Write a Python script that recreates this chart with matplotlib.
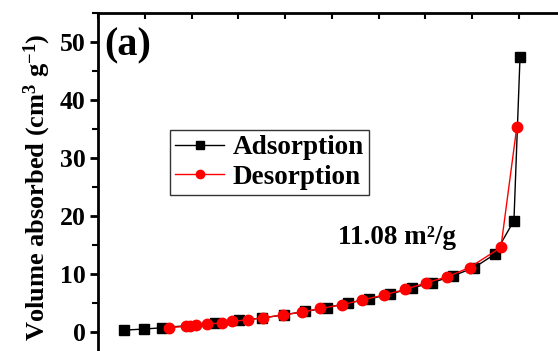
import matplotlib.pyplot as plt
from matplotlib.ticker import MultipleLocator

plt.rcParams['font.family'] = ['Liberation Serif', 'DejaVu Serif']
plt.rcParams['font.weight'] = 'bold'
plt.rcParams['mathtext.fontset'] = 'custom'
plt.rcParams['mathtext.rm'] = 'Liberation Serif:bold'
plt.rcParams['mathtext.it'] = 'Liberation Serif:bold'
plt.rcParams['mathtext.bf'] = 'Liberation Serif:bold'

# N2 isotherm, relative pressure P/P0 vs volume adsorbed
ads_p = [0.056, 0.098, 0.136, 0.250, 0.302, 0.351, 0.398, 0.443, 0.489, 0.535,
         0.580, 0.625, 0.671, 0.714, 0.760, 0.805, 0.849, 0.890, 0.903]
ads_v = [0.29, 0.47, 0.69, 1.47, 1.99, 2.37, 2.94, 3.51, 4.15, 4.97,
         5.66, 6.51, 7.55, 8.46, 9.67, 11.1, 13.4, 19.2, 47.4]

des_p = [0.152, 0.187, 0.197, 0.210, 0.232, 0.264, 0.286, 0.321, 0.353, 0.395,
         0.436, 0.475, 0.521, 0.565, 0.611, 0.657, 0.702, 0.747, 0.795, 0.862, 0.896]
des_v = [0.73, 0.92, 0.98, 1.12, 1.30, 1.55, 1.81, 2.07, 2.42, 2.90,
         3.40, 4.02, 4.66, 5.49, 6.34, 7.31, 8.46, 9.50, 11.1, 14.56, 35.3]

fig = plt.figure(figsize=(5.58, 3.51), dpi=100)
# axes run past the right and bottom edges of the figure
ax = fig.add_axes([0.1762, -0.0277, 0.8369, 0.9897])

ax.plot(ads_p, ads_v, color='black', lw=1, marker='s', ms=6.5,
        label='Adsorption', zorder=2)
ax.plot(des_p, des_v, color='red', lw=1, marker='o', ms=7.5,
        label='Desorption', zorder=3)

ax.set_xlim(0, 1.0)
ax.set_ylim(-5, 55)

ax.yaxis.set_major_locator(MultipleLocator(10))
ax.yaxis.set_minor_locator(MultipleLocator(5))
ax.xaxis.set_major_locator(MultipleLocator(0.1))

for s in ax.spines.values():
    s.set_linewidth(2)

ax.tick_params(axis='y', which='major', direction='out', length=6, width=2,
               labelsize=18.5, pad=3)
ax.tick_params(axis='y', which='minor', direction='out', length=4, width=1.5)
ax.tick_params(axis='x', which='both', top=True, bottom=False, direction='in',
               length=4, width=1.5, labelbottom=False)

ax.set_ylabel(r'Volume absorbed (cm$^{3}$ g$^{-1}$)', fontsize=19,
              fontweight='bold', labelpad=5)

ax.text(0.012, 0.905, '(a)', transform=ax.transAxes, fontsize=29,
        fontweight='bold', va='center', ha='left')
ax.text(0.64, 0.356, '11.08 m²/g', transform=ax.transAxes,
        fontsize=19.5, fontweight='bold', va='center', ha='center')

leg = ax.legend(loc='upper left', bbox_to_anchor=(0.1535, 0.664), fontsize=19.5,
                frameon=True, fancybox=False, edgecolor='black',
                handlelength=1.8, handletextpad=0.3, borderpad=0.2,
                labelspacing=0.15, markerscale=0.8, borderaxespad=0)
leg.get_frame().set_linewidth(1)

fig.savefig('out.png', dpi=100)
